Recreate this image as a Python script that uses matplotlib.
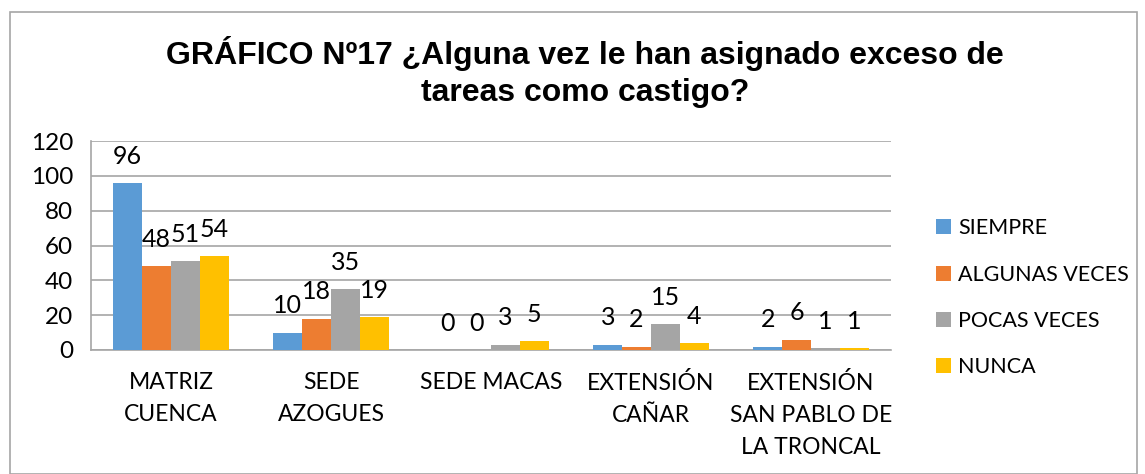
import matplotlib.pyplot as plt
import numpy as np
from matplotlib.patches import Rectangle

categories = ["MATRIZ\nCUENCA", "SEDE\nAZOGUES", "SEDE MACAS", "EXTENSIÓN\nCAÑAR",
              "EXTENSIÓN\nSAN PABLO DE\nLA TRONCAL"]
series = ["SIEMPRE", "ALGUNAS VECES", "POCAS VECES", "NUNCA"]
siempre = [96, 10, 0, 3, 2]
algunas = [48, 18, 0, 2, 6]
pocas = [51, 35, 3, 15, 1]
nunca = [54, 19, 5, 4, 1]
colors = ["#5B9BD5", "#ED7D31", "#A5A5A5", "#FFC000"]

body_font = "Lato"

fig = plt.figure(figsize=(11.45, 4.74), dpi=100)
ax = fig.add_axes([91 / 1145, 1 - 350 / 474, 800 / 1145, 209 / 474])

x = np.arange(len(categories))
w = 0.18
values = [siempre, algunas, pocas, nunca]
for i, (name, vals) in enumerate(zip(series, values)):
    pos = x + (i - 1.5) * w
    bars = ax.bar(pos, vals, w, color=colors[i], label=name, zorder=3)
    for b, v in zip(bars, vals):
        ax.annotate(str(v), (b.get_x() + b.get_width() / 2, v), xytext=(0, 11),
                    textcoords="offset points", ha="center", va="bottom",
                    fontsize=18, family=body_font)

ax.set_ylim(0, 120)
ax.set_yticks(range(0, 121, 20))
ax.set_xlim(-0.5, len(categories) - 0.5)
ax.set_xticks(x)
ax.set_xticklabels(categories, fontsize=16.5, family=body_font, linespacing=1.65, va="top")
for lbl in ax.get_yticklabels():
    lbl.set_fontsize(17.5)
    lbl.set_family(body_font)
ax.tick_params(axis="both", length=0)
ax.tick_params(axis="x", pad=16)
ax.tick_params(axis="y", pad=13)
ax.grid(axis="y", color="#A6A6A6", linewidth=1.2, zorder=0)
for s in ["top", "right"]:
    ax.spines[s].set_visible(False)
ax.spines["left"].set_color("#A6A6A6")
ax.spines["bottom"].set_color("#A6A6A6")
ax.spines["left"].set_linewidth(1.2)
ax.spines["bottom"].set_linewidth(1.2)

fig.text(585 / 1145, 1 - 72 / 474,
         "GRÁFICO Nº17 ¿Alguna vez le han asignado exceso de\ntareas como castigo?",
         ha="center", va="center", fontsize=23, fontweight="bold",
         family="Liberation Sans", linespacing=1.28)

leg = fig.legend(loc="upper left", bbox_to_anchor=(917 / 1145, 1 - 199 / 474),
                 frameon=False, prop={"family": body_font, "size": 15.5},
                 handlelength=0.7, handleheight=0.7, handletextpad=0.3,
                 labelspacing=1.22)

fig.patches.append(Rectangle((10 / 1145, 0), 1127 / 1145, 1 - 12 / 474,
                             transform=fig.transFigure, fill=False,
                             edgecolor="#A6A6A6", linewidth=1.2))

fig.savefig("out.png", dpi=100)
